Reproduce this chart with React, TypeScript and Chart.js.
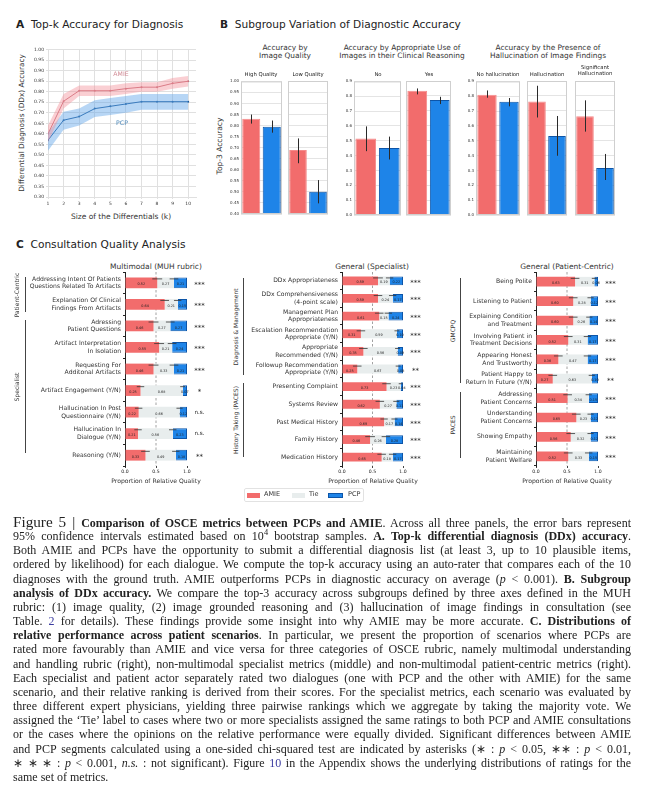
import React, { useEffect, useLayoutEffect, useRef } from "react";
import { Chart, registerables } from "chart.js";
Chart.register(...registerables);

const SANS = "'DejaVu Sans', sans-serif";
const SERIF = "'Liberation Serif', 'Times New Roman', serif";

// ---------- Panel A data ----------
const kSizes = [1, 2, 3, 4, 5, 6, 7, 8, 9, 10];
const amieTopK = [0.6, 0.755, 0.805, 0.805, 0.805, 0.815, 0.822, 0.822, 0.84, 0.85];
const amieTopKLow = [0.56, 0.72, 0.78, 0.78, 0.78, 0.79, 0.8, 0.8, 0.815, 0.825];
const amieTopKHigh = [0.64, 0.79, 0.83, 0.83, 0.83, 0.84, 0.845, 0.845, 0.865, 0.875];
const pcpTopK = [0.57, 0.665, 0.682, 0.72, 0.731, 0.742, 0.753, 0.753, 0.753, 0.753];
const pcpTopKLow = [0.52, 0.62, 0.64, 0.68, 0.69, 0.7, 0.715, 0.715, 0.715, 0.715];
const pcpTopKHigh = [0.605, 0.705, 0.72, 0.76, 0.77, 0.78, 0.79, 0.79, 0.79, 0.79];

// ---------- Panel B data ----------
const bGroupTitles = [
  "Accuracy by\nImage Quality",
  "Accuracy by Appropriate Use of\nImages in their Clinical Reasoning",
  "Accuracy by the Presence of\nHallucination of Image Findings",
];
const bSubgroups = ["High Quality", "Low Quality", "No", "Yes", "No hallucination", "Hallucination", "Significant\nHallucination"];
const bArms = ["AMIE", "PCP"];
const bAmie = [0.831, 0.689, 0.515, 0.834, 0.81, 0.763, 0.664];
const bAmieLo = [0.809, 0.629, 0.43, 0.81, 0.79, 0.655, 0.56];
const bAmieHi = [0.85, 0.741, 0.597, 0.85, 0.839, 0.868, 0.77];
const bPcp = [0.795, 0.5, 0.452, 0.772, 0.763, 0.53, 0.315];
const bPcpLo = [0.768, 0.448, 0.374, 0.745, 0.732, 0.398, 0.235];
const bPcpHi = [0.823, 0.553, 0.528, 0.794, 0.788, 0.665, 0.41];

// ---------- Panel C data ----------
const mmLabels = [
  ["Addressing Intent Of Patients", "Questions Related To Artifacts"],
  ["Explanation Of Clinical", "Findings From Artifacts"],
  ["Adressing", "Patient Questions"],
  ["Artifact Interpretation", "In Isolation"],
  ["Requesting For", "Additonal Artifacts"],
  "Artifact Engagement (Y/N)",
  ["Hallucination In Post", "Questionnaire (Y/N)"],
  ["Hallucination In", "Dialogue (Y/N)"],
  "Reasoning (Y/N)",
];
const mmAmie = [0.52, 0.64, 0.46, 0.55, 0.46, 0.25, 0.22, 0.21, 0.33];
const mmTie = [0.27, 0.21, 0.27, 0.21, 0.33, 0.68, 0.66, 0.56, 0.49];
const mmPcp = [0.21, 0.15, 0.27, 0.24, 0.21, 0.07, 0.12, 0.23, 0.18];
const mmAmieErr = [0.08, 0.07, 0.08, 0.08, 0.08, 0.06, 0.06, 0.06, 0.07];
const mmPcpErr = [0.07, 0.06, 0.07, 0.07, 0.07, 0.04, 0.05, 0.06, 0.06];
const mmSig = ["***", "***", "***", "***", "***", "*", "n.s.", "n.s.", "**"];

const spLabels = [
  "DDx Appropriateness",
  ["DDx Comprehensiveness", "(4-point scale)"],
  ["Management Plan", "Appropriateness"],
  ["Escalation Recommendation", "Appropriate (Y/N)"],
  ["Appropriate", "Recommended (Y/N)"],
  ["Followup Recommendation", "Appropriate (Y/N)"],
  "Presenting Complaint",
  "Systems Review",
  "Past Medical History",
  "Family History",
  "Medication History",
];
const spAmie = [0.59, 0.59, 0.61, 0.31, 0.35, 0.25, 0.73, 0.62, 0.69, 0.46, 0.65];
const spTie = [0.19, 0.24, 0.15, 0.59, 0.56, 0.67, 0.23, 0.27, 0.17, 0.26, 0.18];
const spPcp = [0.22, 0.17, 0.24, 0.1, 0.09, 0.08, 0.04, 0.11, 0.14, 0.28, 0.17];
const spAmieErr = [0.08, 0.07, 0.07, 0.07, 0.07, 0.07, 0.07, 0.07, 0.06, 0.08, 0.07];
const spPcpErr = [0.06, 0.06, 0.06, 0.04, 0.04, 0.04, 0.03, 0.05, 0.05, 0.07, 0.06];
const spSig = ["***", "***", "***", "***", "***", "**", "***", "***", "***", "***", "***"];

const pcLabels = [
  "Being Polite",
  "Listening to Patient",
  ["Explaining Condition", "and Treatment"],
  ["Involving Patient in", "Treatment Decisions"],
  ["Appearing Honest", "And Trustworthy"],
  ["Patient Happy to", "Return In Future (Y/N)"],
  ["Addressing", "Patient Concerns"],
  ["Understanding", "Patient Concerns"],
  "Showing Empathy",
  ["Maintaining", "Patient Welfare"],
];
const pcAmie = [0.63, 0.6, 0.6, 0.52, 0.36, 0.27, 0.51, 0.65, 0.56, 0.52];
const pcTie = [0.31, 0.28, 0.26, 0.31, 0.47, 0.63, 0.34, 0.23, 0.32, 0.33];
const pcPcp = [0.06, 0.12, 0.14, 0.17, 0.17, 0.1, 0.15, 0.12, 0.12, 0.15];
const pcAmieErr = [0.07, 0.07, 0.07, 0.07, 0.07, 0.07, 0.07, 0.07, 0.07, 0.07];
const pcPcpErr = [0.04, 0.05, 0.05, 0.06, 0.06, 0.05, 0.05, 0.05, 0.05, 0.06];
const pcSig = ["***", "***", "***", "***", "***", "**", "***", "***", "***", "***"];

// ---------- colours ----------
const C_AMIE = "#f26c6c";
const C_TIE = "#e8eded";
const C_PCP = "#1e84e8";
const C_PCP_EDGE = "#0d55a8";

type Pads = { l: number; t: number; r: number; b: number };

function Plot({ x, y, w, h, pads, build }: { x: number; y: number; w: number; h: number; pads: Pads; build: () => any }) {
  const ref = useRef<HTMLCanvasElement>(null);
  const W = w + pads.l + pads.r;
  const H = h + pads.t + pads.b;
  useEffect(() => {
    const cfg = build();
    const o = cfg.options || (cfg.options = {});
    o.responsive = false;
    o.maintainAspectRatio = false;
    o.animation = false;
    o.devicePixelRatio = 1;
    o.layout = { padding: { left: 0, top: pads.t, right: pads.r, bottom: 0 } };
    o.plugins = Object.assign({ legend: { display: false }, tooltip: { enabled: false } }, o.plugins || {});
    o.scales.x.afterFit = (s: any) => {
      s.height = pads.b;
    };
    o.scales.y.afterFit = (s: any) => {
      s.width = pads.l;
    };
    const chart = new Chart(ref.current as HTMLCanvasElement, cfg);
    return () => chart.destroy();
  }, []);
  return (
    <canvas
      ref={ref}
      width={W}
      height={H}
      style={{ position: "absolute", left: x - pads.l, top: y - pads.t, width: W, height: H }}
    />
  );
}

function T(props: any) {
  const { x, y, size, children, bold, color = "#222", rot, align = "center", family = SANS, lh = 1.15, italic } = props;
  const tx = align === "center" ? "-50%" : align === "right" ? "-100%" : "0";
  return (
    <div
      style={{
        position: "absolute",
        left: x,
        top: y,
        transform: `translate(${tx},-50%)${rot ? ` rotate(${rot}deg)` : ""}`,
        fontFamily: family,
        fontSize: size,
        whiteSpace: "pre",
        lineHeight: lh,
        color,
        fontWeight: bold ? "bold" : "normal",
        fontStyle: italic ? "italic" : "normal",
        textAlign: "center",
      }}
    >
      {children}
    </div>
  );
}

// ---------- Panel A ----------
const buildA = () => {
  const pts = (arr: number[]) => kSizes.map((k, i) => ({ x: k, y: arr[i] }));
  const tickFont = { size: 4.5, family: SANS };
  return {
    type: "line",
    data: {
      datasets: [
        { data: pts(amieTopKHigh), borderWidth: 0, pointRadius: 0, fill: "+1", backgroundColor: "rgba(242,140,150,0.42)" },
        { data: pts(amieTopKLow), borderWidth: 0, pointRadius: 0, fill: false },
        { data: pts(pcpTopKHigh), borderWidth: 0, pointRadius: 0, fill: "+1", backgroundColor: "rgba(95,165,232,0.45)" },
        { data: pts(pcpTopKLow), borderWidth: 0, pointRadius: 0, fill: false },
        { data: pts(amieTopK), borderColor: "#c9707c", borderWidth: 1, pointRadius: 1, pointBackgroundColor: "#c9707c", pointBorderWidth: 0, fill: false, tension: 0 },
        { data: pts(pcpTopK), borderColor: "#1c5a9a", borderWidth: 1, pointRadius: 1, pointBackgroundColor: "#1c5a9a", pointBorderWidth: 0, fill: false, tension: 0 },
      ],
    },
    options: {
      scales: {
        x: {
          type: "linear",
          min: 1,
          max: 10.5,
          ticks: { stepSize: 1, includeBounds: false, font: tickFont, color: "#333", padding: 2 },
          grid: { color: "#e0e0e0", tickLength: 2 },
          border: { color: "#e0e0e0" },
        },
        y: {
          min: 0.3,
          max: 1.0,
          ticks: { stepSize: 0.05, font: tickFont, color: "#333", padding: 2, callback: (v: any) => Number(v).toFixed(2) },
          grid: { color: "#e0e0e0", tickLength: 2 },
          border: { color: "#e0e0e0" },
        },
      },
    },
  };
};

// ---------- Panel B ----------
const framePlugin = {
  id: "frame",
  afterDraw(chart: any) {
    const { ctx, chartArea: a } = chart;
    ctx.save();
    ctx.strokeStyle = "#cfcfcf";
    ctx.lineWidth = 1;
    ctx.strokeRect(a.left + 0.5, a.top + 0.5, a.right - a.left - 1, a.bottom - a.top - 1);
    ctx.restore();
  },
};

const makeBErr = (lo: number[], hi: number[]) => ({
  id: "berr",
  afterDatasetsDraw(chart: any) {
    const { ctx } = chart;
    const ys = chart.scales.y;
    const meta = chart.getDatasetMeta(0);
    ctx.save();
    ctx.strokeStyle = "#2a2a2a";
    ctx.lineWidth = 1;
    meta.data.forEach((el: any, i: number) => {
      const px = Math.round(el.x) + 0.5;
      ctx.beginPath();
      ctx.moveTo(px, ys.getPixelForValue(lo[i]));
      ctx.lineTo(px, ys.getPixelForValue(hi[i]));
      ctx.stroke();
    });
    ctx.restore();
  },
});

const buildB = (idx: number, showTicks: boolean, yMin: number, yMax: number, step: number, dec: number) => () => {
  const tickFont = { size: 4, family: SANS };
  return {
    type: "bar",
    data: {
      labels: bArms,
      datasets: [
        {
          data: [bAmie[idx], bPcp[idx]],
          backgroundColor: [C_AMIE, C_PCP],
          borderColor: ["#f58a8a", C_PCP_EDGE],
          borderWidth: 1,
          categoryPercentage: 0.88,
          barPercentage: 1,
        },
      ],
    },
    options: {
      scales: {
        x: { grid: { display: false }, border: { display: false }, ticks: { font: tickFont, color: "#222", padding: 1 } },
        y: {
          min: yMin,
          max: yMax,
          ticks: { display: showTicks, stepSize: step, font: tickFont, color: "#333", padding: 2, callback: (v: any) => Number(v).toFixed(dec) },
          grid: { color: "#e4e4e4", drawTicks: false },
          border: { display: false },
        },
      },
    },
    plugins: [framePlugin, makeBErr([bAmieLo[idx], bPcpLo[idx]], [bAmieHi[idx], bPcpHi[idx]])],
  };
};

// ---------- Panel C ----------
const midLinePlugin = {
  id: "midline",
  beforeDatasetsDraw(chart: any) {
    const { ctx, chartArea: a } = chart;
    const px = chart.scales.x.getPixelForValue(0.5);
    ctx.save();
    ctx.strokeStyle = "#8a8a8a";
    ctx.lineWidth = 0.8;
    ctx.setLineDash([2.5, 2]);
    ctx.beginPath();
    ctx.moveTo(px, a.top);
    ctx.lineTo(px, a.bottom);
    ctx.stroke();
    ctx.restore();
  },
};

const valueLabelPlugin = {
  id: "vlabels",
  afterDatasetsDraw(chart: any) {
    const { ctx } = chart;
    ctx.save();
    ctx.font = `3.4px ${SANS}`;
    ctx.fillStyle = "#222";
    ctx.textAlign = "center";
    ctx.textBaseline = "middle";
    chart.data.datasets.forEach((ds: any, d: number) => {
      const meta = chart.getDatasetMeta(d);
      meta.data.forEach((el: any, i: number) => {
        const p = el.getProps(["x", "base", "y"], true);
        ctx.fillText(Number(ds.data[i]).toFixed(2), (p.x + p.base) / 2, p.y + 1.8);
      });
    });
    ctx.restore();
  },
};

const makeCErr = (aErr: number[], pErr: number[]) => ({
  id: "cerr",
  afterDatasetsDraw(chart: any) {
    const { ctx } = chart;
    const xs = chart.scales.x;
    const unit = xs.getPixelForValue(1) - xs.getPixelForValue(0);
    ctx.save();
    ctx.strokeStyle = "#333";
    ctx.lineWidth = 0.8;
    const draw = (cx: number, cy: number, half: number) => {
      ctx.beginPath();
      ctx.moveTo(cx - half, cy);
      ctx.lineTo(cx + half, cy);
      ctx.stroke();
    };
    chart.getDatasetMeta(0).data.forEach((el: any, i: number) => {
      const p = el.getProps(["x", "y", "height"], true);
      draw(p.x, p.y - p.height / 2 + 1.5, aErr[i] * unit);
    });
    chart.getDatasetMeta(2).data.forEach((el: any, i: number) => {
      const p = el.getProps(["base", "y", "height"], true);
      draw(p.base, p.y - p.height / 2 + 1.5, pErr[i] * unit);
    });
    ctx.restore();
  },
});

const makeSig = (sig: string[]) => ({
  id: "sig",
  afterDraw(chart: any) {
    const { ctx, chartArea: a } = chart;
    ctx.save();
    ctx.fillStyle = "#222";
    ctx.textAlign = "center";
    ctx.textBaseline = "middle";
    chart.getDatasetMeta(0).data.forEach((el: any, i: number) => {
      const s = sig[i];
      if (s === "n.s.") {
        ctx.font = `5.6px ${SANS}`;
        ctx.fillText(s, a.right + 12.5, el.y);
      } else {
        ctx.font = `7px ${SANS}`;
        ctx.fillText(s, a.right + 12.5, el.y + 2);
      }
    });
    ctx.restore();
  },
});

const buildC = (labels: any[], amie: number[], tie: number[], pcp: number[], aErr: number[], pErr: number[], sig: string[]) => () => ({
  type: "bar",
  data: {
    labels,
    datasets: [
      { label: "AMIE", data: amie, backgroundColor: C_AMIE, borderWidth: 0 },
      { label: "Tie", data: tie, backgroundColor: C_TIE, borderWidth: 0 },
      { label: "PCP", data: pcp, backgroundColor: C_PCP, borderColor: C_PCP_EDGE, borderWidth: 1 },
    ],
  },
  options: {
    indexAxis: "y",
    datasets: { bar: { barPercentage: 0.5, categoryPercentage: 1 } },
    scales: {
      x: {
        stacked: true,
        min: 0,
        max: 1,
        ticks: { stepSize: 0.5, font: { size: 4.6, family: SANS }, color: "#222", padding: 1, callback: (v: any) => Number(v).toFixed(1) },
        grid: { drawOnChartArea: false, tickLength: 2, color: "#444" },
        border: { display: false },
      },
      y: {
        stacked: true,
        ticks: { autoSkip: false, font: { size: 6.1, family: SANS, lineHeight: 1.25 }, color: "#333", padding: 2 },
        grid: { drawOnChartArea: false, tickLength: 2, color: "#222" },
        border: { display: true, color: "#222", width: 1 },
      },
    },
  },
  plugins: [midLinePlugin, valueLabelPlugin, makeCErr(aErr, pErr), makeSig(sig)],
});

function Bracket({ x, y1, y2, tx, label }: { x: number; y1: number; y2: number; tx: number; label: string }) {
  return (
    <>
      <div style={{ position: "absolute", left: x, top: y1, width: 1, height: y2 - y1, background: "#444" }} />
      <T x={tx} y={(y1 + y2) / 2} size={6} rot={-90} color="#333">
        {label}
      </T>
    </>
  );
}

// ---------- caption ----------
const CAP_W = 618;
const blue = { color: "#3b3ba0" };
const capLines: React.ReactNode[] = [
  <>
    <span style={{ fontSize: 15.2 }}>Figure 5 | </span>
    <b>Comparison of OSCE metrics between PCPs and AMIE</b>. Across all three panels, the error bars represent
  </>,
  <>
    95% confidence intervals estimated based on 10<sup style={{ fontSize: "0.7em", lineHeight: 0 }}>4</sup> bootstrap samples. <b>A. Top-k differential diagnosis (DDx) accuracy</b>.
  </>,
  <>Both AMIE and PCPs have the opportunity to submit a differential diagnosis list (at least 3, up to 10 plausible items,</>,
  <>ordered by likelihood) for each dialogue. We compute the top-k accuracy using an auto-rater that compares each of the 10</>,
  <>
    diagnoses with the ground truth. AMIE outperforms PCPs in diagnostic accuracy on average (<i>p</i> &lt; 0.001). <b>B. Subgroup</b>
  </>,
  <>
    <b>analysis of DDx accuracy.</b> We compare the top-3 accuracy across subgroups defined by three axes defined in the MUH
  </>,
  <>rubric: (1) image quality, (2) image grounded reasoning and (3) hallucination of image findings in consultation (see</>,
  <>
    Table. <span style={blue}>2</span> for details). These findings provide some insight into why AMIE may be more accurate. <b>C. Distributions of</b>
  </>,
  <>
    <b>relative performance across patient scenarios</b>. In particular, we present the proportion of scenarios where PCPs are
  </>,
  <>rated more favourably than AMIE and vice versa for three categories of OSCE rubric, namely multimodal understanding</>,
  <>and handling rubric (right), non-multimodal specialist metrics (middle) and non-multimodal patient-centric metrics (right).</>,
  <>Each specialist and patient actor separately rated two dialogues (one with PCP and the other with AMIE) for the same</>,
  <>scenario, and their relative ranking is derived from their scores. For the specialist metrics, each scenario was evaluated by</>,
  <>three different expert physicians, yielding three pairwise rankings which we aggregate by taking the majority vote. We</>,
  <>assigned the ‘Tie’ label to cases where two or more specialists assigned the same ratings to both PCP and AMIE consultations</>,
  <>or the cases where the opinions on the relative performance were equally divided. Significant differences between AMIE</>,
  <>
    and PCP segments calculated using a one-sided chi-squared test are indicated by asterisks (∗ : <i>p</i> &lt; 0.05, ∗∗ : <i>p</i> &lt; 0.01,
  </>,
  <>
    ∗ ∗ ∗ : <i>p</i> &lt; 0.001, <i>n.s.</i> : not significant). Figure <span style={blue}>10</span> in the Appendix shows the underlying distributions of ratings for the
  </>,
  <>same set of metrics.</>,
];

function CapLine({ children, last }: { children: React.ReactNode; last: boolean }) {
  const div = useRef<HTMLDivElement>(null);
  const span = useRef<HTMLSpanElement>(null);
  useLayoutEffect(() => {
    const d = div.current as HTMLDivElement;
    const s = span.current as HTMLSpanElement;
    d.style.textAlignLast = "left";
    const w = s.getBoundingClientRect().width;
    if (w > CAP_W) {
      const n = (s.textContent || "").length;
      s.style.letterSpacing = `${(CAP_W - w - 1) / n}px`;
    }
    d.style.textAlignLast = last ? "left" : "justify";
  }, []);
  return (
    <div ref={div} style={{ height: 14.17, lineHeight: "14.17px", textAlign: "justify", whiteSpace: "nowrap", width: CAP_W }}>
      <span ref={span}>{children}</span>
    </div>
  );
}

export default function App() {
  const padsB1: Pads = { l: 14, t: 4, r: 1, b: 9 };
  const padsB0: Pads = { l: 0, t: 4, r: 1, b: 9 };
  const padsC = (l: number): Pads => ({ l, t: 12, r: 22, b: 16 });
  return (
    <div style={{ position: "absolute", left: 0, top: 0, width: 646, height: 800, background: "#fff", overflow: "hidden" }}>
      {/* Titles */}
      <T x={16} y={24} size={10.6} align="left" color="#222">
        <b>A</b>
        {"  Top-k Accuracy for Diagnosis"}
      </T>
      <T x={220} y={24} size={10.6} align="left" color="#222">
        <b>B</b>
        {"  Subgroup Variation of Diagnostic Accuracy"}
      </T>
      <T x={16} y={244} size={10.6} align="left" color="#222">
        <b>C</b>
        {"  Consultation Quality Analysis"}
      </T>

      {/* Panel A */}
      <Plot x={48} y={49} w={148} h={148} pads={{ l: 18, t: 4, r: 4, b: 10 }} build={buildA} />
      <T x={22} y={123} size={7.3} rot={-90} color="#333">
        Differential Diagnosis (DDx) Accuracy
      </T>
      <T x={121} y={217} size={7.5} color="#333">
        Size of the Differentials (k)
      </T>
      <T x={121} y={74} size={6.2} color="#d08a94">
        AMIE
      </T>
      <T x={122} y={123} size={6.2} color="#4a86b8">
        PCP
      </T>

      {/* Panel B */}
      <T x={220} y={146} size={7.5} rot={-90} color="#333">
        Top-3 Accuracy
      </T>
      <T x={285} y={52} size={7.4} lh={1.1} color="#333">
        {bGroupTitles[0]}
      </T>
      <T x={402} y={52} size={7.4} lh={1.1} color="#333">
        {bGroupTitles[1]}
      </T>
      <T x={548} y={52} size={7.4} lh={1.1} color="#333">
        {bGroupTitles[2]}
      </T>
      <T x={261} y={74} size={5.3}>{bSubgroups[0]}</T>
      <T x={308} y={74} size={5.3}>{bSubgroups[1]}</T>
      <T x={378} y={74} size={5.3}>{bSubgroups[2]}</T>
      <T x={429} y={74} size={5.3}>{bSubgroups[3]}</T>
      <T x={498} y={74} size={5.3}>{bSubgroups[4]}</T>
      <T x={547} y={74} size={5.3}>{bSubgroups[5]}</T>
      <T x={595} y={71} size={5.3} lh={1.1}>{bSubgroups[6]}</T>

      <Plot x={241} y={81} w={41} h={133} pads={padsB1} build={buildB(0, true, 0.4, 1.0, 0.05, 2)} />
      <Plot x={288} y={81} w={40} h={133} pads={padsB0} build={buildB(1, false, 0.4, 1.0, 0.05, 2)} />
      <Plot x={354} y={81} w={47} h={134} pads={padsB1} build={buildB(2, true, 0, 0.9, 0.1, 1)} />
      <Plot x={406} y={81} w={45} h={134} pads={padsB0} build={buildB(3, false, 0, 0.9, 0.1, 1)} />
      <Plot x={476} y={81} w={44} h={134} pads={padsB1} build={buildB(4, true, 0, 0.9, 0.1, 1)} />
      <Plot x={527} y={81} w={40} h={134} pads={padsB0} build={buildB(5, false, 0, 0.9, 0.1, 1)} />
      <Plot x={575} y={81} w={40} h={134} pads={padsB0} build={buildB(6, false, 0, 0.9, 0.1, 1)} />

      {/* Panel C */}
      <T x={156} y={267} size={7.5} color="#333">Multimodal (MUH rubric)</T>
      <T x={372} y={267} size={7.5} color="#333">General (Specialist)</T>
      <T x={567} y={267} size={7.5} color="#333">General (Patient-Centric)</T>

      <Plot x={125} y={272} w={62} h={194} pads={padsC(100)} build={buildC(mmLabels, mmAmie, mmTie, mmPcp, mmAmieErr, mmPcpErr, mmSig)} />
      <Plot x={342} y={272} w={61} h={194} pads={padsC(96)} build={buildC(spLabels, spAmie, spTie, spPcp, spAmieErr, spPcpErr, spSig)} />
      <Plot x={536} y={272} w={62} h={194} pads={padsC(74)} build={buildC(pcLabels, pcAmie, pcTie, pcPcp, pcAmieErr, pcPcpErr, pcSig)} />

      <T x={156} y={480} size={6.1} color="#333">Proportion of Relative Quality</T>
      <T x={373} y={480} size={6.1} color="#333">Proportion of Relative Quality</T>
      <T x={567} y={480} size={6.1} color="#333">Proportion of Relative Quality</T>

      <Bracket x={25} y1={277} y2={312} tx={17} label="Patient-Centric" />
      <Bracket x={25} y1={320} y2={453} tx={17} label="Specialist" />
      <Bracket x={243} y1={278} y2={375} tx={236} label="Diagnosis & Management" />
      <Bracket x={243} y1={383} y2={457} tx={236} label="History Taking (PACES)" />
      <Bracket x={460} y1={278} y2={383} tx={453} label="GMCPQ" />
      <Bracket x={460} y1={392} y2={458} tx={453} label="PACES" />

      {/* Legend */}
      <div style={{ position: "absolute", left: 244, top: 488, width: 120, height: 14, border: "1px solid #e2e2e2", borderRadius: 2, boxSizing: "border-box" }} />
      <div style={{ position: "absolute", left: 247, top: 493, width: 13, height: 5, background: C_AMIE }} />
      <T x={264} y={495} size={6.5} align="left" color="#333">AMIE</T>
      <div style={{ position: "absolute", left: 292, top: 493, width: 13, height: 5, background: C_TIE }} />
      <T x={309} y={495} size={6.5} align="left" color="#333">Tie</T>
      <div style={{ position: "absolute", left: 328, top: 493, width: 15, height: 5, background: C_PCP, border: `0.8px solid ${C_PCP_EDGE}`, boxSizing: "border-box" }} />
      <T x={348} y={495} size={6.5} align="left" color="#333">PCP</T>

      {/* Caption */}
      <div style={{ position: "absolute", left: 13, top: 515, width: CAP_W, fontFamily: SERIF, fontSize: 12, color: "#222" }}>
        {capLines.map((ln, i) => (
          <CapLine key={i} last={i === capLines.length - 1}>
            {ln}
          </CapLine>
        ))}
      </div>
    </div>
  );
}
